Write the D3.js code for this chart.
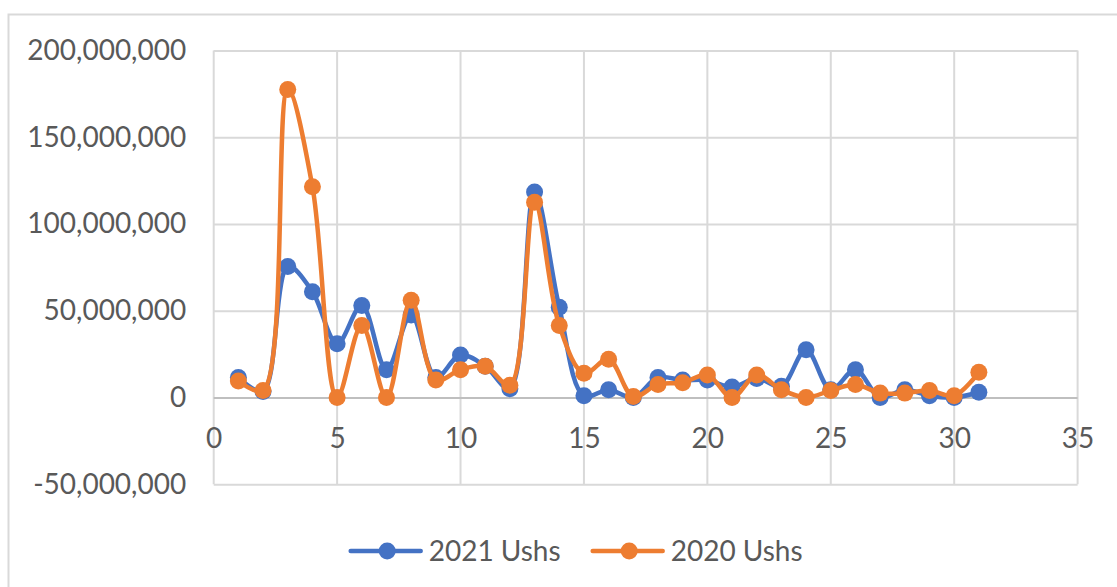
<!DOCTYPE html>
<html>
<head>
<meta charset="utf-8">
<script src="https://cdn.jsdelivr.net/npm/d3@7"></script>
<style>
  html, body { margin: 0; padding: 0; background: #fff; }
  svg { display: block; }
</style>
</head>
<body>
<div id="chart"></div>
<script>
// day of month
const days = [1, 2, 3, 4, 5, 6, 7, 8, 9, 10, 11, 12, 13, 14, 15, 16, 17, 18, 19, 20, 21, 22, 23, 24, 25, 26, 27, 28, 29, 30, 31];
// amounts in millions of Ushs
const ushs2021 = [11.5, 3.5, 75.5, 61, 31, 53, 16, 47.5, 11.5, 24.5, 18, 5, 118.5, 52, 1, 4.5, 0, 11.5, 10, 10, 6, 11, 6.5, 27.5, 4.5, 16, 0, 4.5, 1, 0, 3];
const ushs2020 = [9.5, 4, 177.5, 121.5, 0, 41.5, 0, 56, 10, 16, 18, 7, 112.5, 41.5, 14, 22, 0.5, 7.5, 8.5, 13, 0, 13, 4.5, 0, 4, 7.5, 2.5, 2.5, 4, 1, 14.5];
const seriesNames = ["2021 Ushs", "2020 Ushs"];
const seriesColors = ["#4472C4", "#ED7D31"];
const xTicks = [0, 5, 10, 15, 20, 25, 30, 35];
const yTicks = [-50e6, 0, 50e6, 100e6, 150e6, 200e6];

const width = 1117, height = 587;
const plot = { left: 213.7, right: 1077.6, top: 50.5, bottom: 484.2 };
const gridColor = "#D9D9D9";
const textColor = "#595959";
const font = "Lato, 'Open Sans', sans-serif";

const svg = d3.select("#chart").append("svg")
  .attr("width", width)
  .attr("height", height);

// chart area border (cut off at right and bottom)
svg.append("rect")
  .attr("x", 8.5).attr("y", 14.5)
  .attr("width", 1200).attr("height", 700)
  .attr("fill", "#fff")
  .attr("stroke", gridColor)
  .attr("stroke-width", 2);

const x = d3.scaleLinear().domain([0, 35]).range([plot.left, plot.right]);
const y = d3.scaleLinear().domain([-50e6, 200e6]).range([plot.bottom, plot.top]);

// gridlines
svg.append("g")
  .selectAll("line")
  .data(xTicks)
  .join("line")
  .attr("x1", d => x(d)).attr("x2", d => x(d))
  .attr("y1", plot.top).attr("y2", plot.bottom)
  .attr("stroke", gridColor)
  .attr("stroke-width", 2);

const fmt = d3.format(",");
const yAxis = svg.append("g")
  .attr("transform", `translate(${plot.left},0)`)
  .call(d3.axisLeft(y).tickValues(yTicks).tickFormat(d => fmt(d).replace("\u2212", "-")).tickSize(-(plot.right - plot.left)).tickPadding(27.5));
yAxis.select(".domain").remove();
yAxis.selectAll(".tick line")
  .attr("stroke", d => d === 0 ? "#BFBFBF" : gridColor)
  .attr("stroke-width", 2);
yAxis.selectAll(".tick text")
  .attr("fill", textColor)
  .style("font-family", font)
  .style("font-size", "28px");

const xAxis = svg.append("g")
  .attr("transform", `translate(0,${y(0)})`)
  .call(d3.axisBottom(x).tickValues(xTicks).tickSize(0).tickPadding(30.5));
xAxis.select(".domain").remove();
xAxis.selectAll(".tick text")
  .attr("fill", textColor)
  .style("font-family", font)
  .style("font-size", "28px");

// series
const series = [ushs2021, ushs2020].map((vals, i) => ({
  name: seriesNames[i],
  color: seriesColors[i],
  points: days.map((d, j) => ({ x: d, y: vals[j] * 1e6 }))
}));

const line = d3.line()
  .x(d => x(d.x))
  .y(d => y(d.y))
  .curve(d3.curveCatmullRom.alpha(0.5));

series.forEach(s => {
  const g = svg.append("g");
  g.append("path")
    .datum(s.points)
    .attr("d", line)
    .attr("fill", "none")
    .attr("stroke", s.color)
    .attr("stroke-width", 4.5)
    .attr("stroke-linejoin", "round")
    .attr("stroke-linecap", "round");
  g.selectAll("circle")
    .data(s.points)
    .join("circle")
    .attr("cx", d => x(d.x))
    .attr("cy", d => y(d.y))
    .attr("r", 8.5)
    .attr("fill", s.color);
});

// legend
const legendX = [350.7, 592.7];
const legend = svg.append("g");
series.forEach((s, i) => {
  const lg = legend.append("g").attr("transform", `translate(${legendX[i]},551)`);
  lg.append("line")
    .attr("x1", 0).attr("x2", 70)
    .attr("stroke", s.color)
    .attr("stroke-width", 4.5)
    .attr("stroke-linecap", "round");
  lg.append("circle")
    .attr("cx", 36.5).attr("r", 8.5)
    .attr("fill", s.color);
  lg.append("text")
    .attr("x", 78)
    .attr("dy", "0.36em")
    .attr("fill", textColor)
    .style("font-family", font)
    .style("font-size", "28px")
    .text(s.name);
});
</script>
</body>
</html>
